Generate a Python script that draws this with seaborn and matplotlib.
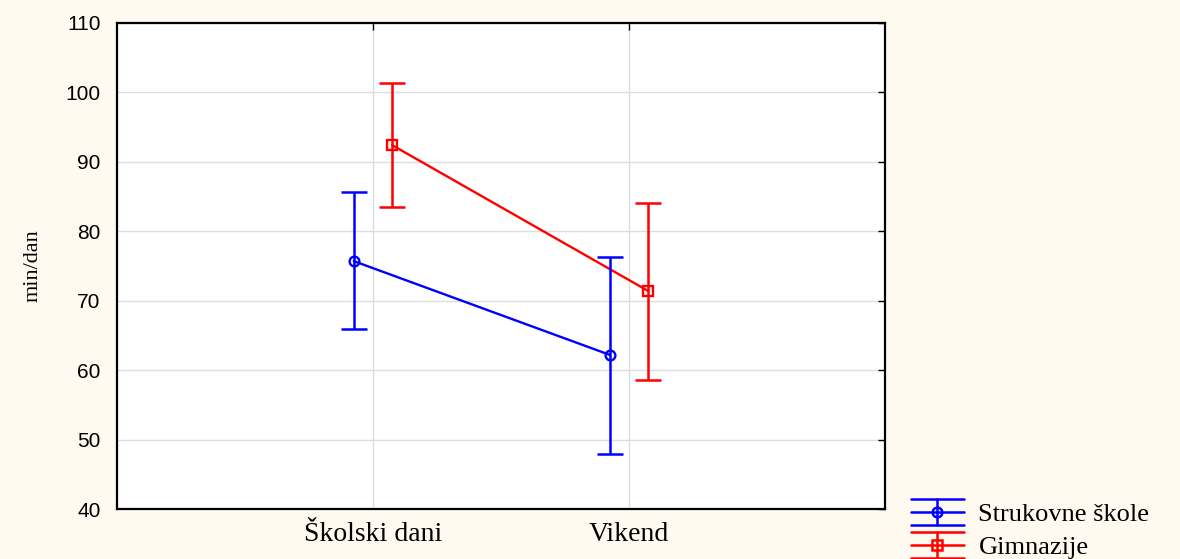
import numpy as np
import pandas as pd
import matplotlib
matplotlib.use("Agg")
import matplotlib.pyplot as plt
import matplotlib.lines as mlines
from matplotlib.legend_handler import HandlerBase
import seaborn as sns

# data
days = ['Školski dani', 'Vikend']
groups = ['Strukovne škole', 'Gimnazije']
strukovne_mean = [75.7, 62.2]
strukovne_low = [65.9, 47.9]
strukovne_high = [85.7, 76.3]
gimnazije_mean = [92.4, 71.4]
gimnazije_low = [83.5, 58.6]
gimnazije_high = [101.3, 84.1]

df = pd.DataFrame({
    'dan': days * 2,
    'grupa': [groups[0]] * 2 + [groups[1]] * 2,
    'min': strukovne_mean + gimnazije_mean,
})

sns.set_style('white')
plt.rcParams['font.family'] = ['Liberation Serif', 'DejaVu Serif']
plt.rcParams['text.color'] = 'black'
plt.rcParams['axes.labelcolor'] = 'black'
plt.rcParams['xtick.color'] = 'black'
plt.rcParams['ytick.color'] = 'black'


# legend symbol like the original: whisker with wide caps and a line through it
class WhiskerHandler(HandlerBase):
    def __init__(self, color, marker):
        super().__init__()
        self.color = color
        self.marker = marker

    def create_artists(self, legend, orig_handle, xdescent, ydescent, width, height,
                       fontsize, trans):
        cy = height / 2 - ydescent
        x0, x1 = -xdescent, width - xdescent
        xm = (x0 + x1) / 2
        d = 9.4
        arts = []
        for y in (cy - d, cy, cy + d):
            arts.append(mlines.Line2D([x0, x1], [y, y], color=self.color, lw=1.8))
        arts.append(mlines.Line2D([xm, xm], [cy - d, cy + d], color=self.color, lw=1.8))
        arts.append(mlines.Line2D([xm], [cy], color=self.color, marker=self.marker,
                                  mfc='none', ms=7, mew=1.8, ls='none'))
        for a in arts:
            a.set_transform(trans)
        return arts


bg = '#fffaf0'
colors = ['#0000ff', '#ff0000']
fig = plt.figure(figsize=(11.8, 5.59), dpi=100, facecolor=bg)
ax = fig.add_axes([0.0992, 0.0894, 0.6508, 0.8695])
ax.set_facecolor('white')

sns.pointplot(data=df, x='dan', y='min', hue='grupa', order=days, hue_order=groups,
              palette=colors, dodge=0.15, markers=['o', 's'], linestyles=['-', '-'],
              errorbar=None, markersize=7, markerfacecolor='none', markeredgewidth=1.7,
              linewidth=1.7, legend=False, ax=ax)

# error bars on the dodged positions
offsets = [-0.075, 0.075]
means = [strukovne_mean, gimnazije_mean]
lows = [strukovne_low, gimnazije_low]
highs = [strukovne_high, gimnazije_high]
markers = ['o', 's']
handles = []
for i, g in enumerate(groups):
    x = np.arange(len(days)) + offsets[i]
    m = np.array(means[i])
    yerr = [m - np.array(lows[i]), np.array(highs[i]) - m]
    eb = ax.errorbar(x, m, yerr=yerr, fmt='none', ecolor=colors[i],
                     elinewidth=1.8, capsize=9.5, capthick=1.8, zorder=3)
    handles.append(eb)

ax.set_xlim(-1, 2)
ax.set_ylim(40, 110)
ax.set_yticks(np.arange(40, 111, 10))
ax.grid(True, color='#dddddd', lw=1)
ax.set_axisbelow(True)
for s in ax.spines.values():
    s.set_color('black')
    s.set_linewidth(1.6)
ax.tick_params(direction='in', length=5, width=1, top=True, right=True)
ax.tick_params(axis='x', labelsize=20, pad=9)
ax.tick_params(axis='y', labelsize=15, pad=12)
for lab in ax.get_yticklabels():
    lab.set_family(['Liberation Sans', 'DejaVu Sans'])
ax.set_xlabel('')
ax.set_ylabel('min/dan', fontsize=16, labelpad=16)

ax.legend(handles, groups, loc='lower left', bbox_to_anchor=(0.752, -0.043),
          bbox_transform=fig.transFigure, frameon=False, fontsize=19,
          handlelength=2.0, handletextpad=0.55, labelspacing=0.36,
          handler_map={handles[0]: WhiskerHandler(colors[0], 'o'),
                       handles[1]: WhiskerHandler(colors[1], 's')})

fig.savefig('out.png', dpi=100, facecolor=bg)
